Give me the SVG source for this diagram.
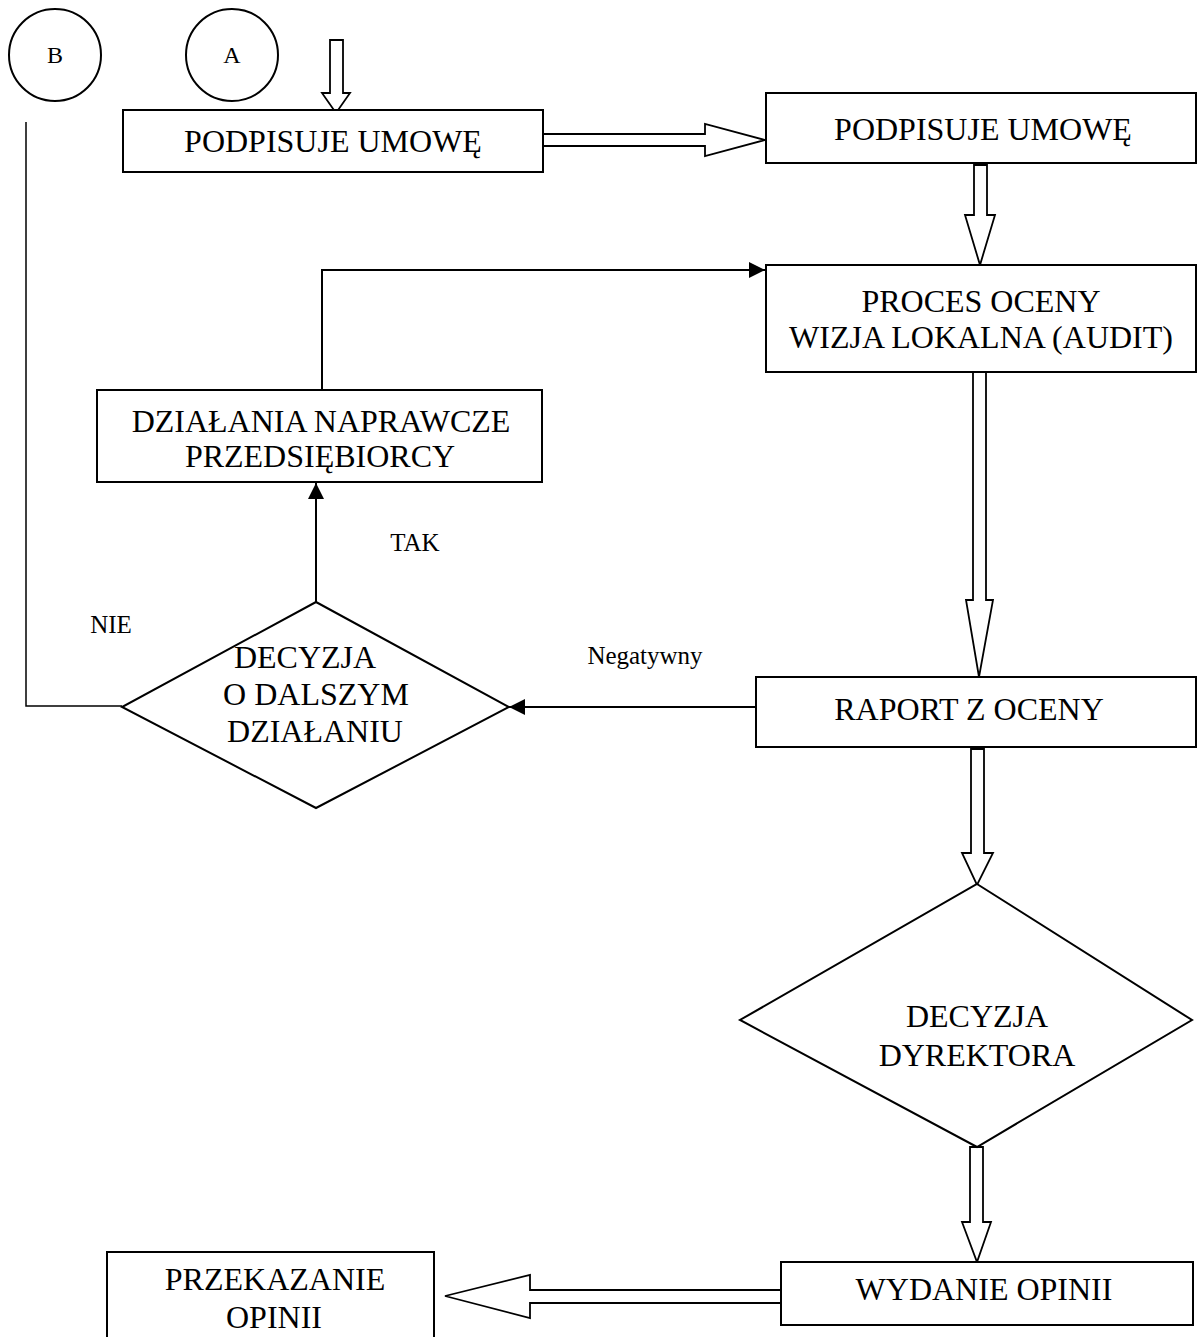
<svg xmlns="http://www.w3.org/2000/svg" width="1198" height="1337" viewBox="0 0 1198 1337">
<style>
.box{fill:#fff;stroke:#000;stroke-width:2}
.blk{fill:#fff;stroke:#000;stroke-width:1.8}
.ln{fill:none;stroke:#000;stroke-width:2}
.t{font-family:"Liberation Serif","Times New Roman",serif;font-size:32px;fill:#000;text-anchor:middle}
.s{font-family:"Liberation Serif","Times New Roman",serif;font-size:25px;fill:#000;text-anchor:middle}
.c{font-family:"Liberation Serif","Times New Roman",serif;font-size:24px;fill:#000;text-anchor:middle}
</style>
<defs>
<marker id="ah2" viewBox="0 0 10 10" refX="10" refY="5" markerWidth="16" markerHeight="16" markerUnits="userSpaceOnUse" orient="auto">
<path d="M0,0 L10,5 L0,10 z" fill="#000"/>
</marker>
</defs>
<g id="connectors">
<polygon class="blk" points="330,40 343,40 343,93 350,93 336,113 322,93 330,93"/>
<polygon class="blk" points="543,134 705,134 705,124 765,140 705,156 705,146 543,146"/>
<polygon class="blk" points="974,165 987,165 987,215 995,215 980,265 965,215 974,215"/>
<polygon class="blk" points="973,372 986,372 986,600 993,600 979,677 966,600 973,600"/>
<polygon class="blk" points="971,749 984,749 984,853 993,853 977,885 962,853 971,853"/>
<polygon class="blk" points="970,1147 983,1147 983,1222 991,1222 977,1262 962,1222 970,1222"/>
<polygon class="blk" points="781,1290 530,1290 530,1275 445,1296 530,1318 530,1303 781,1303"/>
<line class="ln" x1="756" y1="707" x2="509" y2="707" marker-end="url(#ah2)"/>
<line class="ln" x1="316" y1="602" x2="316" y2="483" marker-end="url(#ah2)"/>
<polyline class="ln" points="322,390 322,270 765,270" marker-end="url(#ah2)"/>
<polyline class="ln" points="26,122 26,706 122,706" style="stroke-width:1.5"/>
<text class="s" x="645" y="664">Negatywny</text>
<text class="s" x="415" y="551">TAK</text>
<text class="s" x="111" y="633">NIE</text>
</g>
<g id="nodeB">
<circle class="box" cx="55" cy="55" r="46"/>
<text class="c" x="55" y="63">B</text>
</g>
<g id="nodeA">
<circle class="box" cx="232" cy="55" r="46"/>
<text class="c" x="232" y="63">A</text>
</g>
<g id="box1">
<rect class="box" x="123" y="110" width="420" height="62"/>
<text class="t" x="333" y="152">PODPISUJE UMOWĘ</text>
</g>
<g id="box2">
<rect class="box" x="766" y="93" width="430" height="70"/>
<text class="t" x="983" y="140">PODPISUJE UMOWĘ</text>
</g>
<g id="box3">
<rect class="box" x="766" y="265" width="430" height="107"/>
<text class="t" x="981" y="312">PROCES OCENY</text>
<text class="t" x="981" y="348">WIZJA LOKALNA (AUDIT)</text>
</g>
<g id="box4">
<rect class="box" x="756" y="677" width="440" height="70"/>
<text class="t" x="969" y="720">RAPORT Z OCENY</text>
</g>
<g id="diamond1">
<polygon class="box" points="316,602 509,707 316,808 122,707"/>
<text class="t" x="305" y="668">DECYZJA</text>
<text class="t" x="316" y="705">O DALSZYM</text>
<text class="t" x="315" y="742">DZIAŁANIU</text>
</g>
<g id="box5">
<rect class="box" x="97" y="390" width="445" height="92"/>
<text class="t" x="321" y="432">DZIAŁANIA NAPRAWCZE</text>
<text class="t" x="320" y="467">PRZEDSIĘBIORCY</text>
</g>
<g id="diamond2">
<polygon class="box" points="977,884 1192,1020 977,1147 740,1020"/>
<text class="t" x="977" y="1027">DECYZJA</text>
<text class="t" x="977" y="1066">DYREKTORA</text>
</g>
<g id="box6">
<rect class="box" x="781" y="1262" width="412" height="63"/>
<text class="t" x="984" y="1300">WYDANIE OPINII</text>
</g>
<g id="box7">
<rect class="box" x="107" y="1252" width="327" height="95"/>
<text class="t" x="275" y="1290">PRZEKAZANIE</text>
<text class="t" x="274" y="1328">OPINII</text>
</g>
</svg>
